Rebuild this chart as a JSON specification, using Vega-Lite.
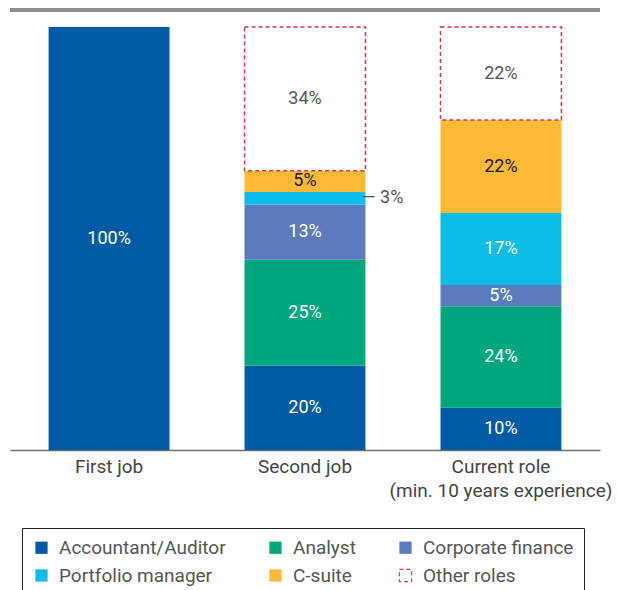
{
  "$schema": "https://vega.github.io/schema/vega-lite/v6.json",
  "width": 590,
  "height": 440,
  "autosize": "none",
  "padding": {"left": 10, "top": 10, "right": 18, "bottom": 140},
  "background": "white",
  "config": {
    "font": "Roboto",
    "view": {"stroke": null},
    "axis": {"grid": false}
  },
  "data": {
    "values": [
      {"job": "First job", "role": "Accountant/Auditor", "idx": 0, "value": 1.00},
      {"job": "Second job", "role": "Accountant/Auditor", "idx": 0, "value": 0.20},
      {"job": "Second job", "role": "Analyst", "idx": 1, "value": 0.25},
      {"job": "Second job", "role": "Corporate finance", "idx": 2, "value": 0.13},
      {"job": "Second job", "role": "Portfolio manager", "idx": 3, "value": 0.03},
      {"job": "Second job", "role": "C-suite", "idx": 4, "value": 0.05},
      {"job": "Second job", "role": "Other roles", "idx": 5, "value": 0.34},
      {"job": "Current role", "role": "Accountant/Auditor", "idx": 0, "value": 0.10},
      {"job": "Current role", "role": "Analyst", "idx": 1, "value": 0.24},
      {"job": "Current role", "role": "Corporate finance", "idx": 2, "value": 0.05},
      {"job": "Current role", "role": "Portfolio manager", "idx": 3, "value": 0.17},
      {"job": "Current role", "role": "C-suite", "idx": 4, "value": 0.22},
      {"job": "Current role", "role": "Other roles", "idx": 5, "value": 0.22}
    ]
  },
  "layer": [
    {
      "mark": {"type": "bar", "strokeWidth": 1.5},
      "encoding": {
        "x": {
          "field": "job",
          "type": "nominal",
          "sort": ["First job", "Second job", "Current role"],
          "scale": {"paddingInner": 0.383, "paddingOuter": 0.197},
          "axis": {
            "title": null,
            "labelAngle": 0,
            "ticks": false,
            "domainColor": "#6e6e6e",
            "domainWidth": 1.5,
            "labelFont": "Roboto",
            "labelFontSize": 19,
            "labelColor": "#444444",
            "labelPadding": 7,
            "labelLineHeight": 24,
            "labelLimit": 400,
            "labelExpr": "datum.value == 'Current role' ? ['Current role', '(min. 10 years experience)'] : datum.value"
          }
        },
        "y": {
          "field": "value",
          "type": "quantitative",
          "stack": "zero",
          "scale": {"domain": [0, 1.0402], "nice": false, "zero": true},
          "axis": null
        },
        "order": {"field": "idx", "type": "quantitative", "sort": "ascending"},
        "fill": {
          "field": "role",
          "type": "nominal",
          "scale": {
            "domain": ["Accountant/Auditor", "Analyst", "Corporate finance", "Portfolio manager", "C-suite", "Other roles"],
            "range": ["#005ba5", "#00a67e", "#5b7bbd", "#0dbde8", "#fcb935", "#ffffff"]
          },
          "legend": {
            "title": null,
            "orient": "none",
            "legendX": 12,
            "legendY": 518,
            "direction": "horizontal",
            "columns": 3,
            "columnPadding": 40,
            "rowPadding": 8,
            "padding": 10,
            "strokeColor": "#222222",
            "fillColor": "#ffffff",
            "symbolType": "square",
            "symbolSize": 150,
            "symbolStrokeWidth": 1.2,
            "labelFont": "Roboto",
            "labelFontSize": 19,
            "labelColor": "#555555",
            "labelOffset": 8,
            "labelLimit": 300
          }
        },
        "stroke": {
          "field": "role",
          "type": "nominal",
          "scale": {
            "domain": ["Accountant/Auditor", "Analyst", "Corporate finance", "Portfolio manager", "C-suite", "Other roles"],
            "range": ["transparent", "transparent", "transparent", "transparent", "transparent", "#d6374a"]
          },
          "legend": {"title": null}
        },
        "strokeDash": {
          "field": "role",
          "type": "nominal",
          "scale": {
            "domain": ["Accountant/Auditor", "Analyst", "Corporate finance", "Portfolio manager", "C-suite", "Other roles"],
            "range": [[1, 0], [1, 0], [1, 0], [1, 0], [1, 0], [4, 3]]
          },
          "legend": {"title": null}
        }
      }
    },
    {
      "transform": [
        {"stack": "value", "groupby": ["job"], "sort": [{"field": "idx", "order": "ascending"}], "as": ["y0", "y1"]},
        {"fold": ["y0", "y1"], "as": ["k", "v"]},
        {"aggregate": [{"op": "mean", "field": "v", "as": "mid"}], "groupby": ["job", "role", "value", "idx"]},
        {"filter": "!(datum.job === 'Second job' && datum.role === 'Portfolio manager')"}
      ],
      "mark": {"type": "text", "fontSize": 18, "font": "Roboto", "baseline": "middle", "align": "center"},
      "encoding": {
        "x": {"field": "job", "type": "nominal", "sort": ["First job", "Second job", "Current role"]},
        "y": {"field": "mid", "type": "quantitative"},
        "text": {"field": "value", "type": "quantitative", "format": ".0%"},
        "color": {
          "condition": [
            {"test": "datum.role === 'C-suite'", "value": "#1a1a1a"},
            {"test": "datum.role === 'Other roles'", "value": "#555555"}
          ],
          "value": "#ffffff"
        }
      }
    },
    {
      "transform": [
        {"stack": "value", "groupby": ["job"], "sort": [{"field": "idx", "order": "ascending"}], "as": ["y0", "y1"]},
        {"fold": ["y0", "y1"], "as": ["k", "v"]},
        {"aggregate": [{"op": "mean", "field": "v", "as": "mid"}], "groupby": ["job", "role", "value", "idx"]},
        {"filter": "datum.job === 'Second job' && datum.role === 'Portfolio manager'"}
      ],
      "mark": {"type": "text", "fontSize": 18, "font": "Roboto", "baseline": "middle", "align": "left", "dx": 56.5, "color": "#555555"},
      "encoding": {
        "x": {"field": "job", "type": "nominal", "sort": ["First job", "Second job", "Current role"]},
        "y": {"field": "mid", "type": "quantitative"},
        "text": {"value": "— 3%"}
      }
    },
    {
      "mark": {"type": "rule", "color": "#8c8c8c", "strokeWidth": 2.5},
      "encoding": {
        "y": {"datum": 1.0402}
      }
    }
  ]
}
